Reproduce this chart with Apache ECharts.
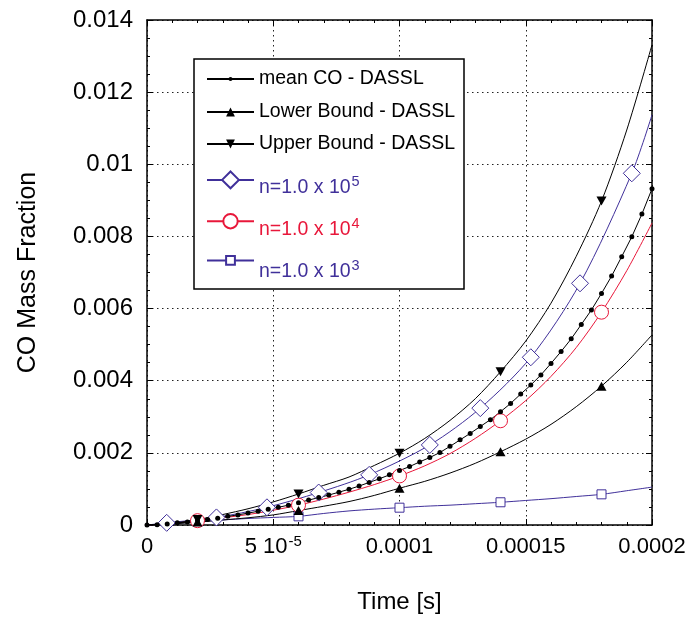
<!DOCTYPE html>
<html><head><meta charset="utf-8">
<script src="https://cdn.jsdelivr.net/npm/echarts@6/dist/echarts.min.js"></script>
<style>html,body{margin:0;padding:0;background:#fff}#c{width:694px;height:619px}</style>
</head><body><div id="c"></div><script>
const FONT = '"Liberation Sans", Arial, sans-serif';
const PURPLE = '#40309a';
const RED = '#e8173a';

// tick labels
const xTickLabels = ['0', '5 10|-5', '0.0001', '0.00015', '0.0002'];
const yTickLabels = ['0', '0.002', '0.004', '0.006', '0.008', '0.01', '0.012', '0.014'];

// mean CO - DASSL (time in microseconds)
const meanTimeUs = [0,4,8,12,16,20,24,28,32,36,40,44,48,52,56,60,64,68,72,76,80,84,88,92,96,100,104,108,112,116,120,124,128,132,136,140,144,148,152,156,160,164,168,172,176,180,184,188,192,196,200];
const meanValues = [0,0.00001,0.00003,0.00006,0.00008,0.00012,0.00015,0.00019,0.00024,0.00028,0.00033,0.00038,0.00044,0.00049,0.00055,0.00062,0.00069,0.00076,0.00083,0.00091,0.00099,0.00108,0.00118,0.00128,0.00139,0.00151,0.00162,0.00175,0.00187,0.00201,0.00218,0.00236,0.00254,0.00273,0.00292,0.00314,0.00337,0.00363,0.00388,0.00416,0.00448,0.00481,0.00516,0.00556,0.00596,0.00642,0.00690,0.00744,0.00799,0.00862,0.00932];

// bounds, n=1e4, n=1e3 curves (time in microseconds)
const curveTimeUs = [0,10,20,30,40,50,60,70,80,90,100,110,120,130,140,150,160,170,180,190,200];
const curveMarkerUs = [20,60,100,140,180];
const upperValues = [0,0.00005,0.00015,0.00029,0.00045,0.00064,0.00086,0.00110,0.00133,0.00165,0.00199,0.00240,0.00290,0.00350,0.00425,0.00510,0.00615,0.00745,0.00898,0.01095,0.01331];
const lowerValues = [0,0.00003,0.00008,0.00014,0.00020,0.00028,0.00040,0.00052,0.00065,0.00082,0.00102,0.00121,0.00144,0.00171,0.00203,0.00238,0.00279,0.00328,0.00385,0.00451,0.00527];
const n1e4Values = [0,0.00005,0.00012,0.00020,0.00029,0.00041,0.00055,0.00072,0.00091,0.00112,0.00136,0.00164,0.00198,0.00240,0.00289,0.00345,0.00412,0.00492,0.00590,0.00705,0.00837];
const n1e3Values = [0,0.00004,0.00009,0.00014,0.00018,0.00021,0.00024,0.00032,0.00039,0.00044,0.00048,0.00052,0.00055,0.00059,0.00063,0.00068,0.00073,0.00079,0.00085,0.00095,0.00105];

// n=1e5 (time in microseconds)
const n1e5TimeUs = [0,7.8,27.5,47.5,68,88,112,132,152,171.5,192,200];
const n1e5MarkerUs = [7.8,27.5,47.5,68,88,112,132,152,171.5,192];
const n1e5Values = [0,0.00006,0.00021,0.00049,0.00090,0.00139,0.00222,0.00324,0.00465,0.00670,0.00975,0.01137];

// legend texts
const legendBase = 'n=1.0 x 10';
const legendExp = {n5: '5', n4: '4', n3: '3'};

function build(timesUs, values, markerUs) {
  return timesUs.map(function (t, i) {
    const item = {value: [t * 1e-6, values[i]]};
    if (markerUs && markerUs.indexOf(t) < 0) item.symbol = 'none';
    return item;
  });
}

const chart = echarts.init(document.getElementById('c'), null, {renderer: 'canvas'});

const axisLineStyle = {color: '#000', width: 1.5};
const gridDots = {color: '#222', width: 1, type: [1.5, 3.5]};

function xAxisBase(pos) {
  return {
    type: 'value', min: 0, max: 0.0002, interval: 0.00005, position: pos,
    axisLine: {show: true, onZero: false, lineStyle: axisLineStyle},
    axisTick: {show: true, inside: true, length: 6, lineStyle: {color: '#000', width: 1}},
    minorTick: {show: true, splitNumber: 5, length: 3, lineStyle: {color: '#000', width: 1}},
    splitLine: {show: pos === 'bottom', lineStyle: gridDots},
    minorSplitLine: {show: false}
  };
}
function yAxisBase(pos) {
  return {
    type: 'value', min: 0, max: 0.014, interval: 0.002, position: pos,
    axisLine: {show: true, onZero: false, lineStyle: axisLineStyle},
    axisTick: {show: true, inside: true, length: 6, lineStyle: {color: '#000', width: 1}},
    minorTick: {show: true, splitNumber: 4, length: 3, lineStyle: {color: '#000', width: 1}},
    splitLine: {show: pos === 'left', lineStyle: gridDots},
    minorSplitLine: {show: false}
  };
}

const xBottom = Object.assign(xAxisBase('bottom'), {
  name: 'Time [s]', nameLocation: 'middle', nameGap: 65,
  nameTextStyle: {fontSize: 24, fontFamily: FONT, color: '#000'},
  axisLabel: {
    show: true, margin: 9, color: '#000', fontFamily: FONT, fontSize: 22,
    formatter: function (v) {
      const lab = xTickLabels[Math.round(v / 0.00005)];
      if (lab.indexOf('|') >= 0) {
        const p = lab.split('|');
        return '{a|' + p[0] + '}{s|' + p[1] + '}';
      }
      return '{a|' + lab + '}';
    },
    rich: {
      a: {fontSize: 22, fontFamily: FONT, color: '#000', lineHeight: 26},
      s: {fontSize: 15, fontFamily: FONT, color: '#000', lineHeight: 12, verticalAlign: 'top', padding: [0, 0, 0, 1]}
    }
  }
});
const xTop = Object.assign(xAxisBase('top'), {axisLabel: {show: false}});
const yLeft = Object.assign(yAxisBase('left'), {
  name: 'CO Mass Fraction', nameLocation: 'middle', nameGap: 106,
  nameTextStyle: {fontSize: 25, fontFamily: FONT, color: '#000'},
  axisLabel: {
    show: true, margin: 14, color: '#000', fontFamily: FONT, fontSize: 24,
    formatter: function (v) { return yTickLabels[Math.round(v / 0.002)]; }
  }
});
const yRight = Object.assign(yAxisBase('right'), {axisLabel: {show: false}});

function lineSeries(name, data, color, symbol, size, extra) {
  return Object.assign({
    name: name, type: 'line', data: data, symbol: symbol, symbolSize: size,
    showAllSymbol: true, smooth: 0.3, clip: true,
    lineStyle: {color: color, width: 1},
    itemStyle: {color: color},
    emphasis: {disabled: true}, animation: false
  }, extra || {});
}

const hollow = function (c) { return {color: '#fff', borderColor: c, borderWidth: 1}; };

const series = [
  lineSeries('n3', build(curveTimeUs, n1e3Values, curveMarkerUs), PURPLE, 'rect', 9, {itemStyle: hollow(PURPLE)}),
  lineSeries('n4', build(curveTimeUs, n1e4Values, curveMarkerUs), RED, 'circle', 14, {itemStyle: hollow(RED)}),
  lineSeries('n5', build(n1e5TimeUs, n1e5Values, n1e5MarkerUs), PURPLE, 'diamond', 17, {itemStyle: hollow(PURPLE)}),
  lineSeries('Lower Bound - DASSL', build(curveTimeUs, lowerValues, curveMarkerUs), '#000', 'triangle', [10, 9]),
  lineSeries('Upper Bound - DASSL', build(curveTimeUs, upperValues, curveMarkerUs), '#000', 'triangle', [10, 9], {symbolRotate: 180}),
  lineSeries('mean CO - DASSL', build(meanTimeUs, meanValues, null), '#000', 'circle', 5, {smooth: false})
];

// legend rows: [series name, icon centre y, icon height, colour]
const legendRows = [
  ['mean CO - DASSL', 79, 5, '#000'],
  ['Lower Bound - DASSL', 112, 11, '#000'],
  ['Upper Bound - DASSL', 144, 11, '#000'],
  ['n5', 181, 21, PURPLE],
  ['n4', 223, 18, RED],
  ['n3', 265, 11, PURPLE]
];

const legends = legendRows.map(function (r) {
  const isExp = !!legendExp[r[0]];
  return {
    data: [r[0]], left: 206, top: r[1] - Math.max(r[2], 20) / 2,
    itemWidth: 47, itemHeight: r[2], padding: 0, selectedMode: false, z: 10,
    formatter: isExp ? function () { return ''; } : '{name}',
    textStyle: {color: r[3], fontFamily: FONT, fontSize: 19.5, lineHeight: 20}
  };
});

// superscript legend labels: base text plus raised exponent
const measureCtx = document.createElement('canvas').getContext('2d');
measureCtx.font = '19.5px "Liberation Sans", Arial, sans-serif';
const baseWidth = measureCtx.measureText(legendBase).width;

const legendTexts = [];
legendRows.forEach(function (r) {
  if (!legendExp[r[0]]) return;
  legendTexts.push({
    type: 'text', z: 11, silent: true,
    style: {x: 259, y: r[1] + 7, verticalAlign: 'middle', align: 'left', text: legendBase,
      fontSize: 19.5, fontFamily: FONT, fill: r[3]}
  });
  legendTexts.push({
    type: 'text', z: 11, silent: true,
    style: {x: 259 + baseWidth + 1, y: r[1] + 1, verticalAlign: 'middle', align: 'left', text: legendExp[r[0]],
      fontSize: 14.5, fontFamily: FONT, fill: r[3]}
  });
});

chart.setOption({
  animation: false,
  backgroundColor: '#fff',
  grid: {left: 147, right: 42, top: 20, bottom: 94, containLabel: false},
  xAxis: [xBottom, xTop],
  yAxis: [yLeft, yRight],
  legend: legends,
  graphic: [{
    type: 'rect', z: 5, silent: true,
    shape: {x: 194, y: 59, width: 270, height: 230},
    style: {fill: '#fff', stroke: '#000', lineWidth: 1.5}
  }].concat(legendTexts),
  series: series
});
</script></body></html>
